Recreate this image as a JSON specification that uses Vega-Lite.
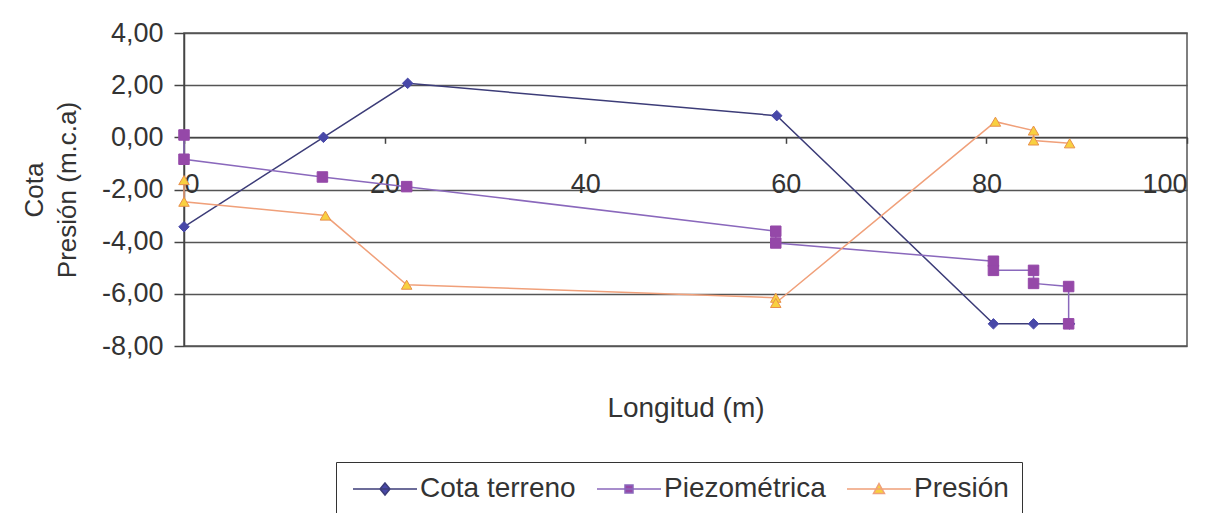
{
  "$schema": "https://vega.github.io/schema/vega-lite/v6.json",
  "width": 1003,
  "height": 313,
  "autosize": {"type": "none"},
  "padding": {"left": 184, "top": 33, "right": 26, "bottom": 167},
  "background": "white",
  "config": {
    "view": {"stroke": "#555", "strokeWidth": 1.5},
    "font": "Liberation Sans, sans-serif"
  },
  "data": {
    "values": [
      {"series": "Cota terreno", "i": 0, "x": 0, "y": -3.43},
      {"series": "Cota terreno", "i": 1, "x": 13.9, "y": 0},
      {"series": "Cota terreno", "i": 2, "x": 22.3, "y": 2.07},
      {"series": "Cota terreno", "i": 3, "x": 59.1, "y": 0.83},
      {"series": "Cota terreno", "i": 4, "x": 80.7, "y": -7.15},
      {"series": "Cota terreno", "i": 5, "x": 84.7, "y": -7.15},
      {"series": "Cota terreno", "i": 6, "x": 88.3, "y": -7.15},
      {"series": "Piezométrica", "i": 0, "x": 0, "y": 0.09},
      {"series": "Piezométrica", "i": 1, "x": 0, "y": -0.84},
      {"series": "Piezométrica", "i": 2, "x": 13.8, "y": -1.52},
      {"series": "Piezométrica", "i": 3, "x": 22.2, "y": -1.89},
      {"series": "Piezométrica", "i": 4, "x": 59, "y": -3.6},
      {"series": "Piezométrica", "i": 5, "x": 59, "y": -4.05},
      {"series": "Piezométrica", "i": 6, "x": 80.7, "y": -4.75},
      {"series": "Piezométrica", "i": 7, "x": 80.7, "y": -5.1},
      {"series": "Piezométrica", "i": 8, "x": 84.7, "y": -5.1},
      {"series": "Piezométrica", "i": 9, "x": 84.7, "y": -5.6},
      {"series": "Piezométrica", "i": 10, "x": 88.2, "y": -5.72},
      {"series": "Piezométrica", "i": 11, "x": 88.2, "y": -7.15},
      {"series": "Presión", "i": 0, "x": 0, "y": -1.64},
      {"series": "Presión", "i": 1, "x": 0, "y": -2.47},
      {"series": "Presión", "i": 2, "x": 14.1, "y": -3.0},
      {"series": "Presión", "i": 3, "x": 22.2, "y": -5.65},
      {"series": "Presión", "i": 4, "x": 59, "y": -6.15},
      {"series": "Presión", "i": 5, "x": 59, "y": -6.35},
      {"series": "Presión", "i": 6, "x": 80.9, "y": 0.6},
      {"series": "Presión", "i": 7, "x": 84.7, "y": 0.26},
      {"series": "Presión", "i": 8, "x": 84.7, "y": -0.12},
      {"series": "Presión", "i": 9, "x": 88.3, "y": -0.23}
    ]
  },
  "encoding": {
    "x": {
      "field": "x", "type": "quantitative",
      "scale": {"domain": [0, 100], "nice": false},
      "axis": {
        "values": [0, 20, 40, 60, 80, 100],
        "offset": -208.7,
        "grid": false,
        "domainColor": "#444", "domainWidth": 1.5,
        "tickColor": "#444", "tickSize": 6, "tickWidth": 1.5,
        "labelFontSize": 27, "labelPadding": 28, "labelColor": "#333",
        "title": "Longitud (m)",
        "titleFontSize": 28, "titleFontWeight": "normal", "titleColor": "#333",
        "titleX": 501.5, "titleY": 270.7, "titleBaseline": "middle", "titleAlign": "center"
      }
    },
    "y": {
      "field": "y", "type": "quantitative",
      "scale": {"domain": [-8, 4], "nice": false, "zero": false},
      "axis": {
        "values": [-8, -6, -4, -2, 0, 2, 4],
        "labelExpr": "replace(replace(format(datum.value, '.2f'), '.', ','), '\u2212', '-')",
        "grid": true, "gridColor": "#555", "gridWidth": 1.5,
        "domainColor": "#444", "domainWidth": 1.5,
        "tickColor": "#444", "tickSize": 10, "tickWidth": 1.5,
        "labelFontSize": 27, "labelPadding": 11, "labelColor": "#333",
        "title": ["Cota", "Presión (m.c.a)"],
        "titleFontSize": 26, "titleFontWeight": "normal", "titleColor": "#333",
        "titleX": -142, "titleY": 156.5, "titleAngle": 270,
        "titleBaseline": "alphabetic", "titleAlign": "center", "titleLineHeight": 33
      }
    }
  },
  "layer": [
    {
      "mark": {"type": "line", "strokeWidth": 1.5},
      "encoding": {
        "stroke": {
          "field": "series", "type": "nominal",
          "scale": {"domain": ["Cota terreno", "Piezométrica", "Presión"], "range": ["#3c3c78", "#8a68bc", "#f0a07a"]}
        },
        "order": {"field": "i", "type": "quantitative"}
      }
    },
    {
      "mark": {"type": "point", "filled": true, "size": 110, "strokeWidth": 1, "opacity": 1},
      "encoding": {
        "shape": {
          "condition": [
            {"test": "datum.series === 'Cota terreno'", "value": "diamond"},
            {"test": "datum.series === 'Piezométrica'", "value": "square"}
          ],
          "value": "triangle-up"
        },
        "fill": {
          "condition": [
            {"test": "datum.series === 'Cota terreno'", "value": "#4848a8"},
            {"test": "datum.series === 'Piezométrica'", "value": "#9548a8"}
          ],
          "value": "#f8d040"
        },
        "stroke": {
          "condition": [
            {"test": "datum.series === 'Cota terreno'", "value": "#4848a8"},
            {"test": "datum.series === 'Piezométrica'", "value": "#9548a8"}
          ],
          "value": "#e8904a"
        }
      }
    },
    {
      "transform": [{"filter": "false"}],
      "mark": {"type": "point", "filled": true, "opacity": 1},
      "encoding": {
        "shape": {
          "field": "series", "type": "nominal",
          "scale": {
            "domain": ["Cota terreno", "Piezométrica", "Presión"],
            "range": [
              "M-1,0H5.4M2.2,-0.6L2.7,0L2.2,0.6L1.7,0Z",
              "M-1,0H5.4M1.8,-0.4H2.6V0.4H1.8Z",
              "M-1,0H5.4M2.2,-0.55L2.75,0.45H1.65Z"
            ]
          },
          "legend": {
            "title": null,
            "orient": "none", "legendX": 152, "legendY": 429,
            "direction": "horizontal",
            "strokeColor": "#333", "padding": 13,
            "labelFontSize": 28, "labelColor": "#333", "labelLimit": 400,
            "symbolSize": 400, "labelOffset": 43, "columnPadding": 17,
            "symbolStrokeWidth": 1.5, "symbolOpacity": 1
          }
        },
        "fill": {
          "field": "series", "type": "nominal",
          "scale": {"domain": ["Cota terreno", "Piezométrica", "Presión"], "range": ["#4848a8", "#9548a8", "#f8d040"]}
        }
      }
    }
  ]
}
